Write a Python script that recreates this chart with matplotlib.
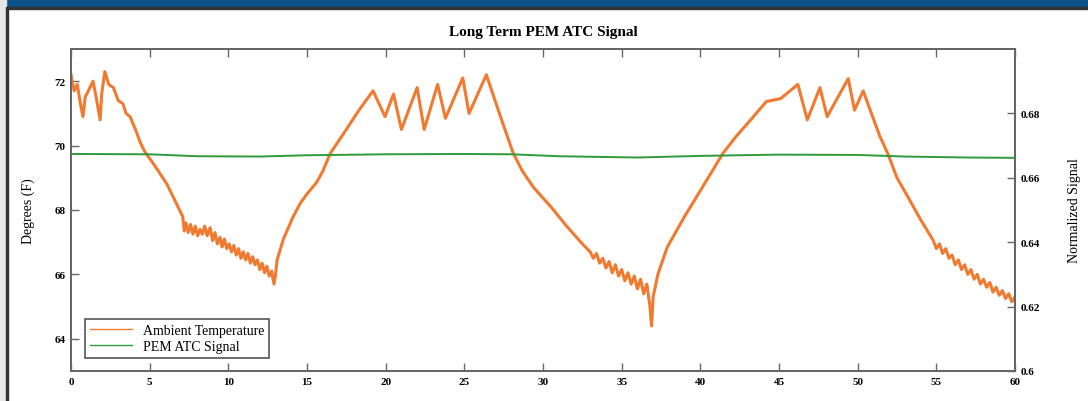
import matplotlib.pyplot as plt
from matplotlib.patches import Rectangle

plt.rcParams['font.family'] = ['Liberation Serif', 'DejaVu Serif']

# ambient temperature (deg F) vs time (hours)
temp_t = [0, 0.2, 0.4, 0.6, 0.76, 0.9, 1.1, 1.4, 1.6, 1.85, 1.95, 2.15, 2.4, 2.7,
          3.0, 3.3, 3.5, 3.75, 4.1, 4.4, 4.7, 5.0, 5.5, 6.1, 6.6,
          7.1, 7.2, 7.3, 7.45, 7.6, 7.75, 7.9, 8.05, 8.2, 8.35, 8.5, 8.65, 8.84,
          9.0, 9.15, 9.3, 9.47, 9.6, 9.75, 9.9, 10.05, 10.2, 10.35, 10.5, 10.65,
          10.8, 10.95, 11.1, 11.25, 11.4, 11.55, 11.7, 11.85, 12.0, 12.15, 12.3,
          12.45, 12.6, 12.75, 12.9, 13.0, 13.1, 13.5, 14.1,
          14.56, 15.0, 15.6, 16.0, 16.47, 16.7, 17.5, 18.3, 19.2, 19.96, 20.5,
          21.0, 22.0, 22.45, 23.3, 23.8, 24.9, 25.3, 26.4, 27.3, 28.1, 28.7, 29.4,
          30.5, 31.5, 32.5, 33.0, 33.2, 33.4, 33.6, 33.8, 34.0, 34.2, 34.4, 34.6,
          34.8, 35.0, 35.2, 35.4, 35.6, 35.8, 36.0, 36.2, 36.4, 36.6, 36.8, 36.9,
          37.0, 37.3, 37.9, 39.0, 40.0, 41.45, 42.3, 43.2, 44.2, 45.1,
          46.2, 46.8, 47.6, 48.06, 49.4, 49.8, 50.35, 51.4, 51.9, 52.5, 53.2,
          54.0, 54.8, 55.0, 55.2, 55.4, 55.6, 55.8, 56.0, 56.2, 56.4, 56.6, 56.8,
          57.0, 57.2, 57.4, 57.6, 57.8, 58.0, 58.2, 58.4, 58.6, 58.8, 59.0, 59.2,
          59.4, 59.6, 59.8, 60.0]
temp_f = [72.2, 71.7, 71.9, 71.3, 70.9, 71.5, 71.7, 72.0, 71.5, 70.8, 71.6, 72.3, 71.9, 71.8,
          71.4, 71.3, 71.0, 70.9, 70.5, 70.1, 69.8, 69.6, 69.25, 68.8, 68.3,
          67.8, 67.35, 67.6, 67.3, 67.55, 67.25, 67.5, 67.2, 67.4, 67.25, 67.5, 67.2, 67.45,
          67.05, 67.3, 66.95, 67.15, 66.85, 67.1, 66.8, 66.95, 66.7, 66.9, 66.6, 66.8,
          66.5, 66.7, 66.45, 66.65, 66.35, 66.55, 66.3, 66.45, 66.15, 66.35, 66.05,
          66.25, 65.95, 66.1, 65.7, 66.0, 66.45, 67.1, 67.77,
          68.2, 68.5, 68.85, 69.2, 69.75, 69.92, 70.5, 71.1, 71.7, 70.9, 71.6,
          70.5, 71.8, 70.5, 71.9, 70.85, 72.1, 71.0, 72.2, 70.9, 69.77, 69.2, 68.7,
          68.1, 67.5, 66.95, 66.7, 66.5, 66.65, 66.35, 66.5, 66.2, 66.4, 66.05, 66.3,
          65.95, 66.15, 65.8, 66.05, 65.7, 65.95, 65.55, 65.85, 65.4, 65.7, 65.0, 64.4,
          65.3, 66.0, 66.85, 67.8, 68.6, 69.77, 70.3, 70.8, 71.37, 71.46,
          71.9, 70.8, 71.8, 70.9, 72.08, 71.1, 71.7, 70.3, 69.77, 69.0, 68.4,
          67.7, 67.06, 66.8, 66.95, 66.65, 66.8, 66.5, 66.6, 66.3, 66.45, 66.15, 66.3,
          66.0, 66.15, 65.85, 66.0, 65.7, 65.85, 65.6, 65.75, 65.45, 65.6, 65.35, 65.5,
          65.25, 65.4, 65.15, 65.3]

# normalized PEM ATC signal
sig_t = [0, 5, 8, 12, 15, 20, 25, 28, 31, 36, 40, 45, 50, 53, 57, 60]
sig_v = [0.6674, 0.6673, 0.6667, 0.6666, 0.6670, 0.6673, 0.6674, 0.6673,
         0.6667, 0.6663, 0.6668, 0.6672, 0.6671, 0.6666, 0.6663, 0.6662]

x_ticks = list(range(0, 61, 5))
left_ticks = [64, 66, 68, 70, 72]
right_ticks = [0.6, 0.62, 0.64, 0.66, 0.68]
right_labels = ['0.6', '0.62', '0.64', '0.66', '0.68']

orange = '#f07a30'
green = '#2e9a3a'
spine_col = '#666666'

fig = plt.figure(figsize=(10.88, 4.02), dpi=100)
W, H = 1088, 402

# page frame: blue header strip and grey left margin
fig.patches.append(Rectangle((0, 1 - 8 / H), 1, 8 / H, transform=fig.transFigure,
                             color='#0b528a', zorder=0))
fig.patches.append(Rectangle((0, 1 - 10 / H), 1, 2 / H, transform=fig.transFigure,
                             color='#333333', zorder=0))
fig.patches.append(Rectangle((0, 0), 6 / W, 1, transform=fig.transFigure,
                             color='#e6e7e9', zorder=0))
fig.patches.append(Rectangle((6 / W, 0), 2 / W, 1 - 8 / H, transform=fig.transFigure,
                             color='#333333', zorder=0))

ax = fig.add_axes([71 / W, 1 - 372 / H, 944 / W, 322 / H])
ax2 = ax.twinx()

l1, = ax.plot(temp_t, temp_f, color=orange, lw=2.2, label='Ambient Temperature')
l2, = ax2.plot(sig_t, sig_v, color=green, lw=1.4, label='PEM ATC Signal')

ax.set_xlim(0, 60)
ax.set_ylim(63, 73)
ax2.set_ylim(0.6, 0.7)
ax.set_xticks(x_ticks)
ax.set_yticks(left_ticks)
ax2.set_yticks(right_ticks)
ax2.set_yticklabels(right_labels)

for a in (ax, ax2):
    for s in a.spines.values():
        s.set_color(spine_col)
        s.set_linewidth(1.4)
    a.tick_params(direction='in', length=6, width=1, color=spine_col,
                  labelsize=8, pad=4)
    for lab in a.get_xticklabels() + a.get_yticklabels():
        lab.set_fontweight('bold')
ax.tick_params(axis='x', top=True)

ax.set_ylabel('Degrees (F)', fontsize=10, labelpad=14)
ax2.set_ylabel('Normalized Signal', fontsize=10, labelpad=20)
ax.set_title('Long Term PEM ATC Signal', fontsize=11, fontweight='bold', pad=10)

leg = ax.legend([l1, l2], ['Ambient Temperature', 'PEM ATC Signal'], loc='lower left',
                bbox_to_anchor=(0.008, 0.02), fontsize=10, fancybox=False,
                edgecolor='#555555', handlelength=3, borderpad=0.35,
                labelspacing=0.2, framealpha=1)
leg.get_frame().set_linewidth(1.2)
for h in leg.get_lines():
    h.set_linewidth(1.0)

fig.savefig('out.png', dpi=100)
